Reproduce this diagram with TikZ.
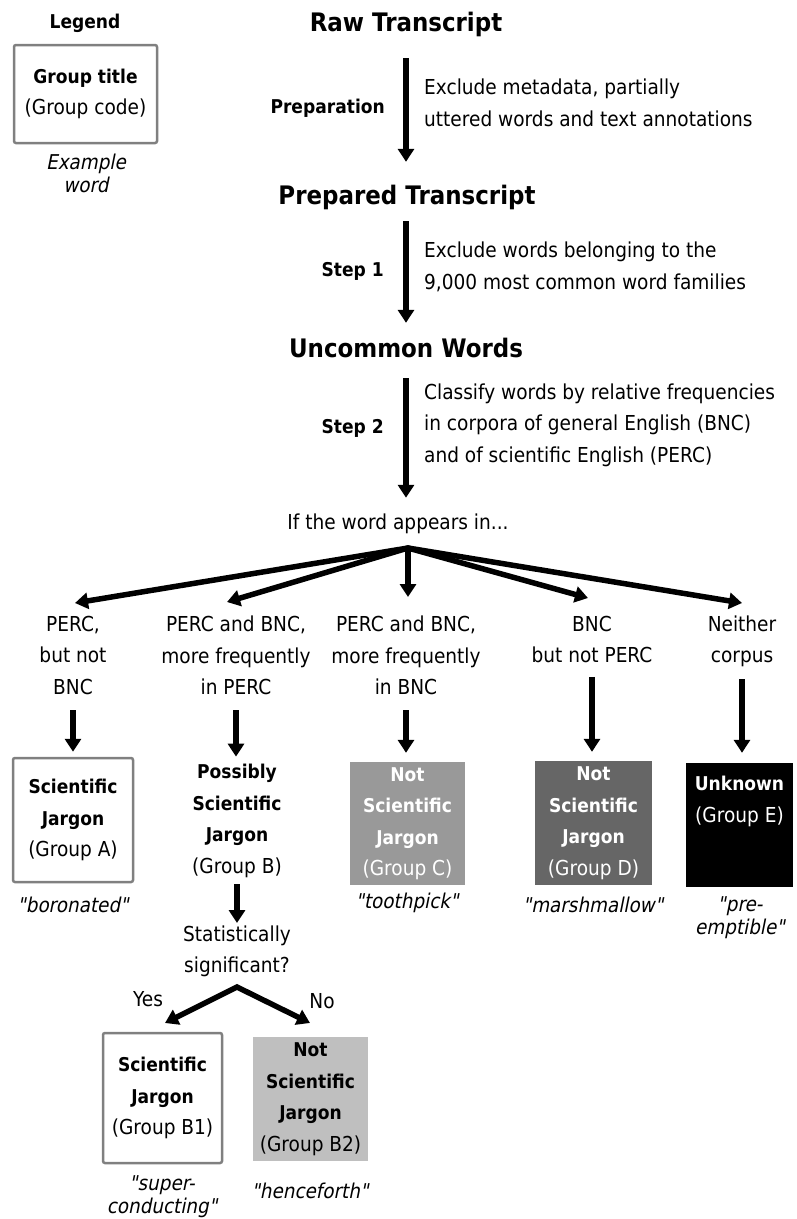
\documentclass[tikz,border=0pt]{standalone}
\usepackage{fontspec}
\setmainfont{DejaVu Sans}[FakeStretch=0.9]
\newfontfamily\exfont{DejaVu Sans}[FakeStretch=0.9, FakeSlant=0.2, Ligatures=TeXOff]
\usetikzlibrary{arrows.meta}
\definecolor{boxborder}{HTML}{808080}
\definecolor{grayC}{HTML}{999999}
\definecolor{grayD}{HTML}{666666}
\definecolor{grayBtwo}{HTML}{BFBFBF}
\newcommand{\fbody}{\fontsize{20.6}{31.5}\selectfont}
\newcommand{\fbold}{\fontsize{19}{31.5}\selectfont\bfseries}
\newcommand{\ftitle}{\fontsize{25.5}{30}\selectfont\bfseries}
\newcommand{\fexm}{\exfont\fontsize{20.4}{23}\selectfont}
\begin{document}
\begin{tikzpicture}[x=1pt,y=-1pt,
  txt/.style={inner sep=0pt, align=center, font=\fbody, execute at begin node=\strut, execute at end node=\strut},
  ttl/.style={inner sep=0pt, font=\ftitle, execute at begin node=\strut},
  exword/.style={inner sep=0pt, align=center, font=\fexm, execute at begin node=\strut, execute at end node=\strut},
  wbox/.style={draw=boxborder, line width=2.5pt, fill=white, rounded corners=2pt, inner sep=0pt, align=center, font=\fbody},
  gbox/.style={inner sep=0pt, align=center, font=\fbody},
  arr/.style={line width=5.5pt, -{Triangle[width=16pt,length=13pt]}},
  fan/.style={line width=5.5pt, line join=miter, {Triangle[width=16pt,length=13pt]}-{Triangle[width=16pt,length=13pt]}}
]
\useasboundingbox (0,0) rectangle (796,1219);
\fill[white] (0,0) rectangle (796,1219);

% Legend
\node[txt, font=\fbold] (legendT) at (85,22) {Legend};
\node[wbox, minimum width=143pt, minimum height=98pt] (legendBox) at (85.5,94) {\fbold Group title\\\fbody (Group code)};
\node[exword] (legendEx) at (86,177) {Example\\word};

% Main chain
\node[ttl, anchor=base] (raw) at (406,31) {Raw Transcript};
\node[ttl, anchor=base] (prepared) at (407,204) {Prepared Transcript};
\node[ttl, anchor=base] (uncommon) at (406,357) {Uncommon Words};
\node[txt, anchor=base] (ifword) at (398,529) {If the word appears in...};

\draw[arr, shorten <=18pt, shorten >=21pt] (raw.south) -- (raw.south |- prepared.north);
\draw[arr, shorten <=8pt, shorten >=13pt] (raw.south |- prepared.south) -- (raw.south |- uncommon.north);
\draw[arr, shorten <=12pt, shorten >=9pt] (uncommon.south) -- (uncommon.south |- ifword.north);

\node[txt, font=\fbold, anchor=east] (prepLbl) at (385,107) {Preparation};
\node[txt, align=left, anchor=west] (prepDesc) at (424,107.5) {Exclude metadata, partially\\uttered words and text annotations};
\node[txt, font=\fbold, anchor=east] (step1Lbl) at (384,270) {Step 1};
\node[txt, align=left, anchor=west] (step1Desc) at (424,270.5) {Exclude words belonging to the\\9,000 most common word families};
\node[txt, font=\fbold, anchor=east] (step2Lbl) at (384,427) {Step 2};
\node[txt, align=left, anchor=west] (step2Desc) at (424,427.5) {Classify words by relative frequencies\\in corpora of general English (BNC)\\and of scientific English (PERC)};

% Fan
\coordinate (apex) at (408,548);
\coordinate (tipA) at (75,603);
\coordinate (tipB) at (227,602);
\coordinate (tipC) at (408,597);
\coordinate (tipD) at (588,598);
\coordinate (tipE) at (742,603);
\draw[fan] (tipA) -- (apex) -- (tipE);
\draw[fan] (tipB) -- (apex) -- (tipD);
\draw[arr] (apex) -- (tipC);

% Column labels
\node[txt] (colA) at (73,660) {PERC,\\but not\\BNC};
\node[txt] (colB) at (236,660) {PERC and BNC,\\more frequently\\in PERC};
\node[txt] (colC) at (406,660) {PERC and BNC,\\more frequently\\in BNC};
\node[txt] (colD) at (592,644) {BNC\\but not PERC};
\node[txt] (colE) at (742,644) {Neither\\corpus};

% Boxes
\node[wbox, minimum width=120pt, minimum height=124pt] (boxA) at (73,820) {\fbold Scientific\\\fbold Jargon\\\fbody (Group A)};
\node[txt] (groupB) at (237,823.5) {\fbold Possibly\\\fbold Scientific\\\fbold Jargon\\\fbody (Group B)};
\node[gbox, fill=grayC, text=white, minimum width=115pt, minimum height=123pt] (boxC) at (407.5,823.5) {\fbold Not\\\fbold Scientific\\\fbold Jargon\\\fbody (Group C)};
\node[gbox, fill=grayD, text=white, minimum width=117pt, minimum height=124pt] (boxD) at (593.5,823) {\fbold Not\\\fbold Scientific\\\fbold Jargon\\\fbody (Group D)};
\node[gbox, fill=black, minimum width=107pt, minimum height=124pt] (boxE) at (739.5,825) {};
\node[txt, text=white] (boxEtext) at (739.5,804) {\fbold Unknown\\\fbody (Group E)};

\draw[arr, shorten <=6pt, shorten >=5pt] (colA.south) -- (colA.south |- boxA.north);
\draw[arr, shorten <=6pt, shorten >=7.5pt] (colB.south) -- (colB.south |- groupB.north);
\draw[arr, shorten <=6pt, shorten >=9pt] (colC.south) -- (colC.south |- boxC.north);
\draw[arr, shorten <=4.5pt, shorten >=9pt] (colD.south) -- (colD.south |- boxD.north);
\draw[arr, shorten <=6.5pt, shorten >=10pt] (colE.south) -- (colE.south |- boxE.north);

\node[exword] (exA) at (73,908) {"boronated"};
\node[exword] (exC) at (407,904) {"toothpick"};
\node[exword] (exD) at (593,908) {"marshmallow"};
\node[exword] (exE) at (740,919) {"pre-\\emptible"};

% Group B branch
\node[txt] (stat) at (237,954) {Statistically\\significant?};
\draw[arr, shorten <=1.5pt, shorten >=2.5pt] (groupB.south) -- (stat.north);
\coordinate (apexB) at (237,987);
\coordinate (tipYes) at (165,1023);
\coordinate (tipNo) at (310,1023);
\draw[fan] (tipYes) -- (apexB) -- (tipNo);
\node[txt] (yes) at (148,1000) {Yes};
\node[txt] (no) at (322,1002) {No};

\node[wbox, minimum width=119pt, minimum height=130pt] (boxBone) at (162.5,1098) {\fbold Scientific\\\fbold Jargon\\\fbody (Group B1)};
\node[gbox, fill=grayBtwo, minimum width=115pt, minimum height=124pt] (boxBtwo) at (310.5,1099) {\fbold Not\\\fbold Scientific\\\fbold Jargon\\\fbody (Group B2)};
\node[exword] (exBone) at (162,1197.5) {"super-\\conducting"};
\node[exword] (exBtwo) at (310,1194) {"henceforth"};
\end{tikzpicture}
\end{document}
